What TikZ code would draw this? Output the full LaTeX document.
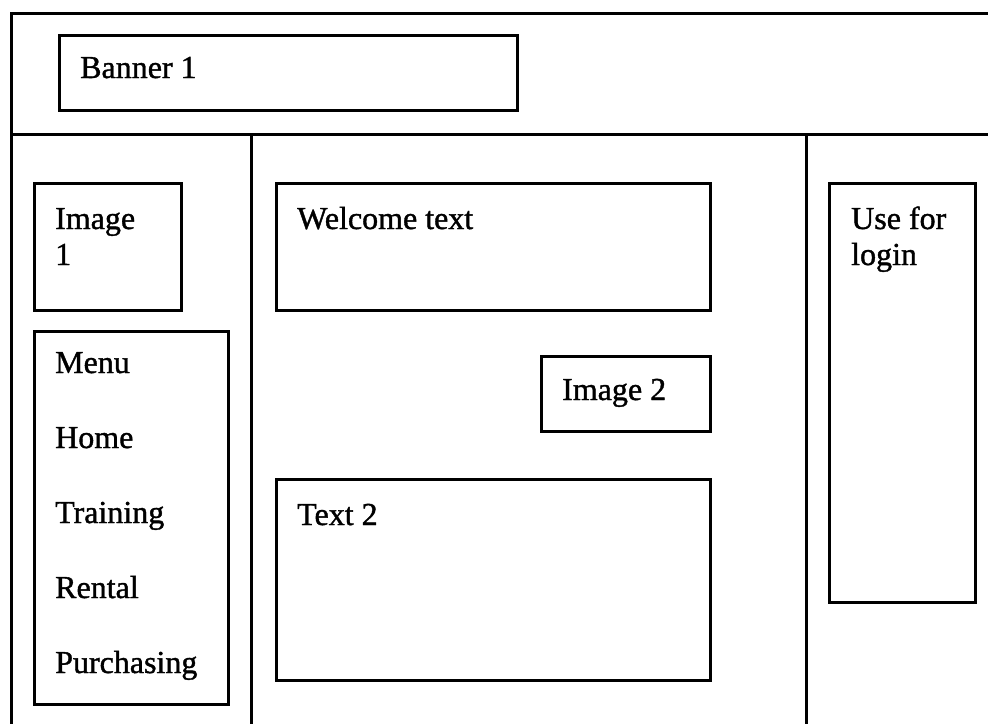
\documentclass[tikz,border=0pt]{standalone}
\usepackage{fontspec}
\setmainfont{Liberation Serif}
\newfontfamily\scanfont[FakeBold=1.2]{Liberation Serif}
\usetikzlibrary{positioning}
\tikzset{
  frame/.style={line width=3pt},
  panel/.style={line width=3pt},
  lbl/.style={anchor=base west, inner sep=0pt, font=\scanfont\fontsize{32}{36}\selectfont, align=left}
}
\begin{document}
\begin{tikzpicture}[x=1pt,y=-1pt]
\useasboundingbox (0,0) rectangle (988,724);
% page frame
\draw[frame] (988,13) -- (11,13) -- (11,724);
\draw[frame] (11,134) -- (988,134);
\draw[frame] (251,134) -- (251,724);
\draw[frame] (806,134) -- (806,724);
% banner
\draw[panel] (59,35) rectangle (517,110);
\node[lbl] (banner) at (80,78) {Banner 1};
% left column
\draw[panel] (34,183) rectangle (181,310);
\node[lbl] (imageone) at (55,265) {Image\\1};
\draw[panel] (34,331) rectangle (228,704);
\foreach \y/\item in {373/Menu, 448/Home, 523/Training, 598/Rental, 673/Purchasing} {
  \node[lbl] (menu-\item) at (55,\y) {\item};
}
% middle column
\draw[panel] (276,183) rectangle (710,310);
\node[lbl] (welcome) at (297,229) {Welcome text};
\draw[panel] (541,356) rectangle (710,431);
\node[lbl] (imagetwo) at (562,400) {Image 2};
\draw[panel] (276,479) rectangle (710,680);
\node[lbl] (texttwo) at (297,525) {Text 2};
% right column
\draw[panel] (829,183) rectangle (975,602);
\node[lbl] (login) at (851,265) {Use for\\login};
\end{tikzpicture}
\end{document}
